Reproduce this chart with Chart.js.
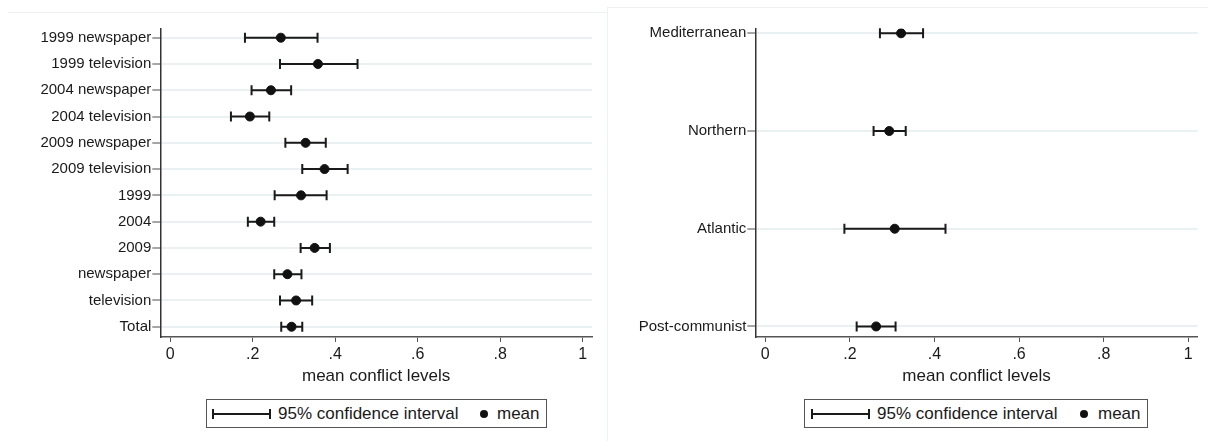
<!DOCTYPE html>
<html lang="en">
<head>
  <meta charset="UTF-8">
  <title>Mean conflict levels</title>
  <script src="https://cdn.jsdelivr.net/npm/chart.js"></script>
  <style>
    * {
      margin: 0;
      padding: 0;
      box-sizing: border-box;
    }

    body {
      width: 1208px;
      height: 441px;
      background: #fff;
      font-family: 'Liberation Sans', Arial, sans-serif;
      color: #1a1a1a;
      position: relative;
      overflow: hidden;
    }

    .frame-left {
      position: absolute;
      left: 8px;
      top: 12px;
      width: 599px;
      height: 430px;
      border-top: 1px solid #eef1f2;
    }

    .frame-right {
      position: absolute;
      left: 607px;
      top: 7px;
      width: 601px;
      height: 434px;
      border-top: 1px solid #eef1f2;
      border-left: 1px solid #eef1f2;
    }

    .chart-box {
      position: absolute;
      top: 0;
      height: 395px;
    }

    .legend {
      position: absolute;
      top: 399px;
      height: 29px;
      border: 1px solid #555;
      background: #fff;
      font-size: 17px;
    }

    .legend span,
    .legend svg {
      position: absolute;
    }

    .legend span {
      top: 4px;
      white-space: nowrap;
    }
  </style>
</head>
<body>
  <div class="frame-left"></div>
  <div class="frame-right"></div>

  <div class="chart-box" style="left:0; width:600px;">
    <canvas id="mediaChart"></canvas>
  </div>
  <div class="chart-box" style="left:600px; width:608px;">
    <canvas id="regionChart"></canvas>
  </div>

  <div class="legend" style="left:206px; width:341px;">
    <svg style="left:5px; top:8px;" width="59" height="12">
      <line x1="1" y1="6" x2="58" y2="6" stroke="#1a1a1a" stroke-width="2"/>
      <line x1="1" y1="1" x2="1" y2="11" stroke="#1a1a1a" stroke-width="2"/>
      <line x1="58" y1="1" x2="58" y2="11" stroke="#1a1a1a" stroke-width="2"/>
    </svg>
    <span style="left:71px;">95% confidence interval</span>
    <svg style="left:272px; top:9px;" width="10" height="10">
      <circle cx="5" cy="5" r="4" fill="#111"/>
    </svg>
    <span style="left:290px;">mean</span>
  </div>

  <div class="legend" style="left:804px; width:344px;">
    <svg style="left:6px; top:8px;" width="59" height="12">
      <line x1="1" y1="6" x2="58" y2="6" stroke="#1a1a1a" stroke-width="2"/>
      <line x1="1" y1="1" x2="1" y2="11" stroke="#1a1a1a" stroke-width="2"/>
      <line x1="58" y1="1" x2="58" y2="11" stroke="#1a1a1a" stroke-width="2"/>
    </svg>
    <span style="left:72px;">95% confidence interval</span>
    <svg style="left:274px; top:9px;" width="10" height="10">
      <circle cx="5" cy="5" r="4" fill="#111"/>
    </svg>
    <span style="left:293px;">mean</span>
  </div>

  <script>
    // media / year groups
    const mediaGroups = ['1999 newspaper', '1999 television', '2004 newspaper', '2004 television',
      '2009 newspaper', '2009 television', '1999', '2004', '2009', 'newspaper', 'television', 'Total'];
    const mediaMean = [0.268, 0.358, 0.244, 0.193, 0.328, 0.374, 0.317, 0.219, 0.350, 0.284, 0.305, 0.294];
    const mediaLow  = [0.181, 0.266, 0.197, 0.147, 0.279, 0.320, 0.253, 0.188, 0.316, 0.252, 0.266, 0.269];
    const mediaHigh = [0.357, 0.454, 0.293, 0.240, 0.377, 0.430, 0.379, 0.252, 0.387, 0.318, 0.344, 0.320];

    // regional models
    const regionGroups = ['Mediterranean', 'Northern', 'Atlantic', 'Post-communist'];
    const regionMean = [0.321, 0.293, 0.306, 0.262];
    const regionLow  = [0.271, 0.256, 0.187, 0.216];
    const regionHigh = [0.373, 0.332, 0.426, 0.308];

    const xTicks = [0, 0.2, 0.4, 0.6, 0.8, 1];
    const xTitle = 'mean conflict levels';

    const ink = '#1a1a1a';

    // horizontal CI bars with end caps, drawn under the mean markers
    const ciBars = {
      id: 'ciBars',
      beforeDatasetsDraw(chart, args, opts) {
        const { ctx, scales: { x, y } } = chart;
        ctx.save();
        ctx.strokeStyle = ink;
        ctx.lineWidth = 2;
        opts.low.forEach((lo, i) => {
          const x1 = x.getPixelForValue(lo);
          const x2 = x.getPixelForValue(opts.high[i]);
          const py = y.getPixelForValue(i);
          ctx.beginPath();
          ctx.moveTo(x1, py);
          ctx.lineTo(x2, py);
          ctx.moveTo(x1, py - 5);
          ctx.lineTo(x1, py + 5);
          ctx.moveTo(x2, py - 5);
          ctx.lineTo(x2, py + 5);
          ctx.stroke();
        });
        ctx.restore();
      }
    };

    const makeChart = (id, groups, means, low, high, layout) => {
      return new Chart(document.getElementById(id), {
        type: 'scatter',
        data: {
          datasets: [{
            data: means.map((m, i) => ({ x: m, y: i })),
            backgroundColor: '#111',
            borderColor: '#111',
            pointRadius: 4.5,
            pointHoverRadius: 4.5
          }]
        },
        options: {
          responsive: true,
          maintainAspectRatio: false,
          animation: false,
          events: [],
          layout: { padding: { left: 0, right: layout.right, top: 28.5, bottom: 0 } },
          plugins: {
            legend: { display: false },
            tooltip: { enabled: false },
            ciBars: { low, high }
          },
          scales: {
            x: {
              type: 'linear',
              min: layout.xMin,
              max: layout.xMax,
              afterBuildTicks: (s) => { s.ticks = xTicks.map(v => ({ value: v })); },
              afterFit: (s) => { s.height = 58; },
              ticks: {
                color: ink,
                font: { family: "'Liberation Sans', Arial", size: 16 },
                padding: 3,
                maxRotation: 0,
                callback: (v) => (v === 0 || v === 1) ? String(v) : String(v).replace('0.', '.')
              },
              grid: { drawOnChartArea: false, drawTicks: true, tickLength: 5, tickColor: '#555', tickWidth: 1 },
              border: { display: true, color: '#555', width: 1.5 },
              title: {
                display: true,
                text: xTitle,
                color: ink,
                font: { family: "'Liberation Sans', Arial", size: 17 },
                padding: { top: 0, bottom: 8 }
              }
            },
            y: {
              type: 'linear',
              reverse: true,
              min: layout.yMin,
              max: layout.yMax,
              afterBuildTicks: (s) => { s.ticks = groups.map((_, i) => ({ value: i })); },
              afterFit: (s) => { s.width = layout.left; },
              ticks: {
                autoSkip: false,
                color: ink,
                font: { family: "'Liberation Sans', Arial", size: 15 },
                padding: 1,
                callback: (v) => groups[v]
              },
              grid: { color: '#e9f1f2', lineWidth: 2, drawTicks: true, tickLength: 8, tickColor: '#888', tickWidth: 1.5 },
              border: { display: true, color: '#333', width: 1.5 }
            }
          }
        },
        plugins: [ciBars]
      });
    };

    makeChart('mediaChart', mediaGroups, mediaMean, mediaLow, mediaHigh,
      { left: 160.3, right: 8, xMin: -0.0243, xMax: 1.0226, yMin: -0.35, yMax: 11.39 });
    makeChart('regionChart', regionGroups, regionMean, regionLow, regionHigh,
      { left: 155.3, right: 10.3, xMin: -0.0236, xMax: 1.0222, yMin: -0.049, yMax: 3.108 });
  </script>
</body>
</html>
